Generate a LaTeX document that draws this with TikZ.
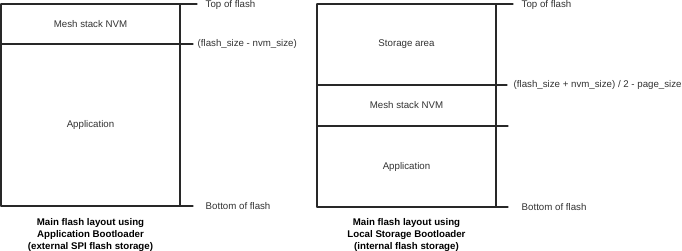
\documentclass[tikz,border=0pt]{standalone}
\usepackage{xcolor}
\usepackage{tikz, tkz-euclide}
\usepackage{fontspec}
\setmainfont{Liberation Sans}

\definecolor{flashline}{RGB}{40,40,40}
\definecolor{flashtext}{RGB}{50,50,50}

\tikzset{
  region/.style={text=flashtext, font=\fontsize{9.7}{11.7}\selectfont, inner sep=0pt},
  marker/.style={region, anchor=west},
  caption/.style={region, font=\fontsize{9.7}{11.7}\selectfont\bfseries, align=center, text=black},
}

\begin{document}
\begin{tikzpicture}[x=1pt, y=-1pt]
      \useasboundingbox (0,0) rectangle (682,251);%
      % left layout: application bootloader
      \tkzDefPoints{1/4/La, 180/4/Lb, 1/44/Lc, 180/44/Ld, 1/206/Le, 180/206/Lf}%
      \tkzDefPoints{197/4/Lta, 193/44/Ltb, 193/206/Ltc}%
      % right layout: local storage bootloader
      \tkzDefPoints{317/4/Ra, 496/4/Rb, 317/85/Rc, 496/85/Rd}%
      \tkzDefPoints{317/126/Re, 496/126/Rf, 317/207/Rg, 496/207/Rh}%
      \tkzDefPoints{513/4/Rta, 507/85/Rtb, 508/126/Rtc, 508/207/Rtd}%

      \tkzDrawSegments[color=flashline, line width=1.3pt](La,Lta Lc,Ltb Le,Ltc La,Le Lb,Lf)%
      \tkzDrawSegments[color=flashline, line width=1.3pt](Ra,Rta Rc,Rtb Re,Rtc Rg,Rtd Ra,Rg Rb,Rh)%

      \node[region] (lnvm) at ($(La)!0.5!(Ld)$) {Mesh stack NVM};
      \node[region] (lapp) at ($(Lc)!0.5!(Lf)$) {Application};
      \node[region] (rstore) at ($(Ra)!0.5!(Rd)$) {Storage area};
      \node[region] (rnvm) at ($(Rc)!0.5!(Rf)$) {Mesh stack NVM};
      \node[region] (rapp) at ($(Re)!0.5!(Rh)$) {Application};

      \node[marker] (ltop) at (205.5,5) {Top of flash};
      \node[marker] (lmid) at (197.5,44) {(flash\_size - nvm\_size)};
      \node[marker] (lbot) at (205.5,206) {Bottom of flash};
      \node[marker] (rtop) at (521.5,5) {Top of flash};
      \node[marker] (rmid) at (513.5,85) {(flash\_size + nvm\_size) / 2 - page\_size};
      \node[marker] (rbot) at (521.5,207) {Bottom of flash};

      \node[caption] (lcap) at (90.5,235) {Main flash layout using\\Application Bootloader\\(external SPI flash storage)};
      \node[caption] (rcap) at (406.5,235) {Main flash layout using\\Local Storage Bootloader\\(internal flash storage)};
    \end{tikzpicture}
\end{document}
